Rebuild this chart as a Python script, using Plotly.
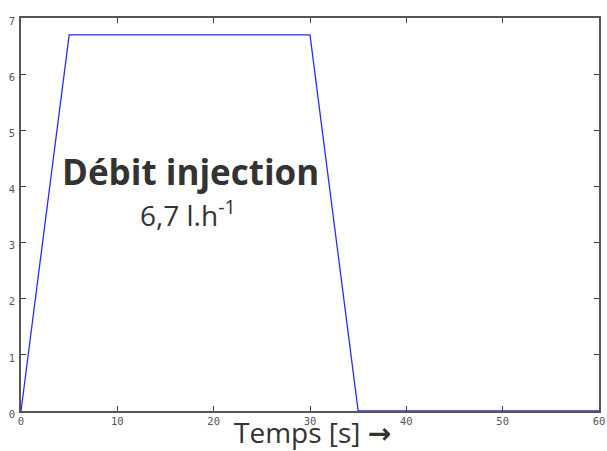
import plotly.graph_objects as go

time_s = [0, 5, 30, 35, 60]
flow_lh = [0, 6.7, 6.7, 0, 0]
x_ticks = [0, 10, 20, 30, 40, 50, 60]
y_ticks = [0, 1, 2, 3, 4, 5, 6, 7]

fig = go.Figure()
fig.add_trace(go.Scatter(x=time_s, y=flow_lh, mode="lines",
                         line=dict(color="#2a2aff", width=1.3), showlegend=False))

tickfont = dict(family="DejaVu Sans Mono", size=10.5, color="#555555")
axis_common = dict(showgrid=False, zeroline=False, showline=True, linecolor="#555555",
                   linewidth=1.5, mirror="allticks", ticks="inside", ticklen=5,
                   tickcolor="#444444", tickwidth=1, tickfont=tickfont, automargin=False)

fig.update_xaxes(range=[0, 60], tickvals=x_ticks, **axis_common)
fig.update_yaxes(range=[0, 7], tickvals=y_ticks, ticklabelshift=3, ticklabelstandoff=2,
                 **axis_common)

fig.add_annotation(x=17.6, y=4.27, xref="x", yref="y", text="<b>Débit injection</b>",
                   showarrow=False, font=dict(family="Open Sans", size=35, color="#333333"))
fig.add_annotation(x=17.35, y=3.52, xref="x", yref="y", text="6,7 l.h<sup>-1</sup>",
                   showarrow=False, font=dict(family="Open Sans", size=28, color="#333333"))
fig.add_annotation(x=(312 - 21) / 578, y=-(432 - 411) / 393, xref="paper", yref="paper",
                   text="Temps [s] <span style=\"font-family:'DejaVu Sans'\"><b>\u2192</b></span>",
                   showarrow=False, yanchor="middle",
                   font=dict(family="Open Sans", size=28, color="#333333"))

fig.update_layout(width=607, height=451, margin=dict(l=21, r=8, t=18, b=40),
                  plot_bgcolor="white", paper_bgcolor="white")
fig.write_html("out.html", config={"displayModeBar": False},
               post_script="document.body.style.margin='0';")
